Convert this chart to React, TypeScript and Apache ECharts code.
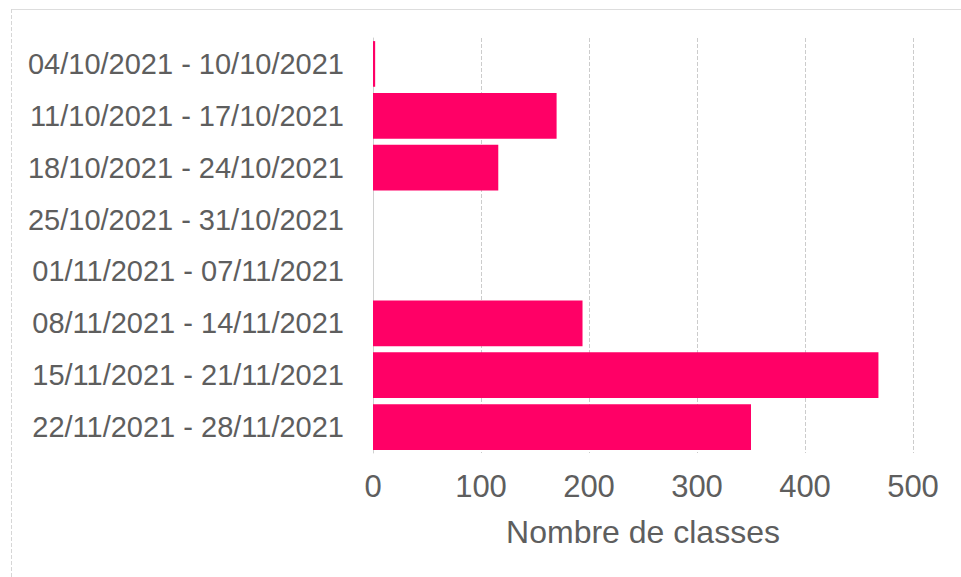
import React, { useEffect, useRef } from "react";
import * as echarts from "echarts";

const categories = [
  "04/10/2021 - 10/10/2021",
  "11/10/2021 - 17/10/2021",
  "18/10/2021 - 24/10/2021",
  "25/10/2021 - 31/10/2021",
  "01/11/2021 - 07/11/2021",
  "08/11/2021 - 14/11/2021",
  "15/11/2021 - 21/11/2021",
  "22/11/2021 - 28/11/2021",
];
const values = [2, 170, 116, 0, 0, 194, 468, 350];
const axisMin = 0;
const axisMax = 500;
const axisInterval = 100;
const axisName = "Nombre de classes";

export default function App() {
  const ref = useRef<HTMLDivElement>(null);
  useEffect(() => {
    document.body.style.margin = "0";
    if (!ref.current) return;
    const chart = echarts.init(ref.current, null, { renderer: "svg" });
    const font = "Arial";
    chart.setOption({
      animation: false,
      backgroundColor: "#ffffff",
      grid: { left: 373, right: 48, top: 38, bottom: 124, containLabel: false },
      xAxis: {
        type: "value",
        min: axisMin,
        max: axisMax,
        interval: axisInterval,
        name: axisName,
        nameLocation: "middle",
        nameGap: 63,
        nameMoveOverlap: false,
        nameTextStyle: { fontFamily: font, fontSize: 32, color: "#5e5e5e" },
        axisLine: { show: false },
        axisTick: { show: false },
        axisLabel: { fontFamily: font, fontSize: 31, color: "#5e5e5e", margin: 18 },
        splitLine: { show: true, lineStyle: { color: "#cccccc", type: [4, 2], width: 1 } },
      },
      yAxis: {
        type: "category",
        data: categories,
        inverse: true,
        axisLine: { show: true, lineStyle: { color: "#d0d0d0", width: 1 } },
        axisTick: { show: false },
        axisLabel: { fontFamily: font, fontSize: 29, color: "#5e5e5e", margin: 29 },
        splitLine: { show: false },
      },
      series: [
        {
          type: "bar",
          data: values,
          barCategoryGap: "12%",
          itemStyle: { color: "#ff0066" },
          z: 3,
        },
      ],
      graphic: [
        {
          type: "line",
          shape: { x1: 11, y1: 9.5, x2: 961, y2: 9.5 },
          style: { stroke: "#dddddd", lineWidth: 1 },
          silent: true,
        },
        {
          type: "line",
          shape: { x1: 11.5, y1: 9, x2: 11.5, y2: 577 },
          style: { stroke: "#d6d6d6", lineWidth: 1, lineDash: [4, 2] },
          silent: true,
        },
      ],
    });
    return () => chart.dispose();
  }, []);
  return <div ref={ref} style={{ width: 961, height: 577 }} />;
}
